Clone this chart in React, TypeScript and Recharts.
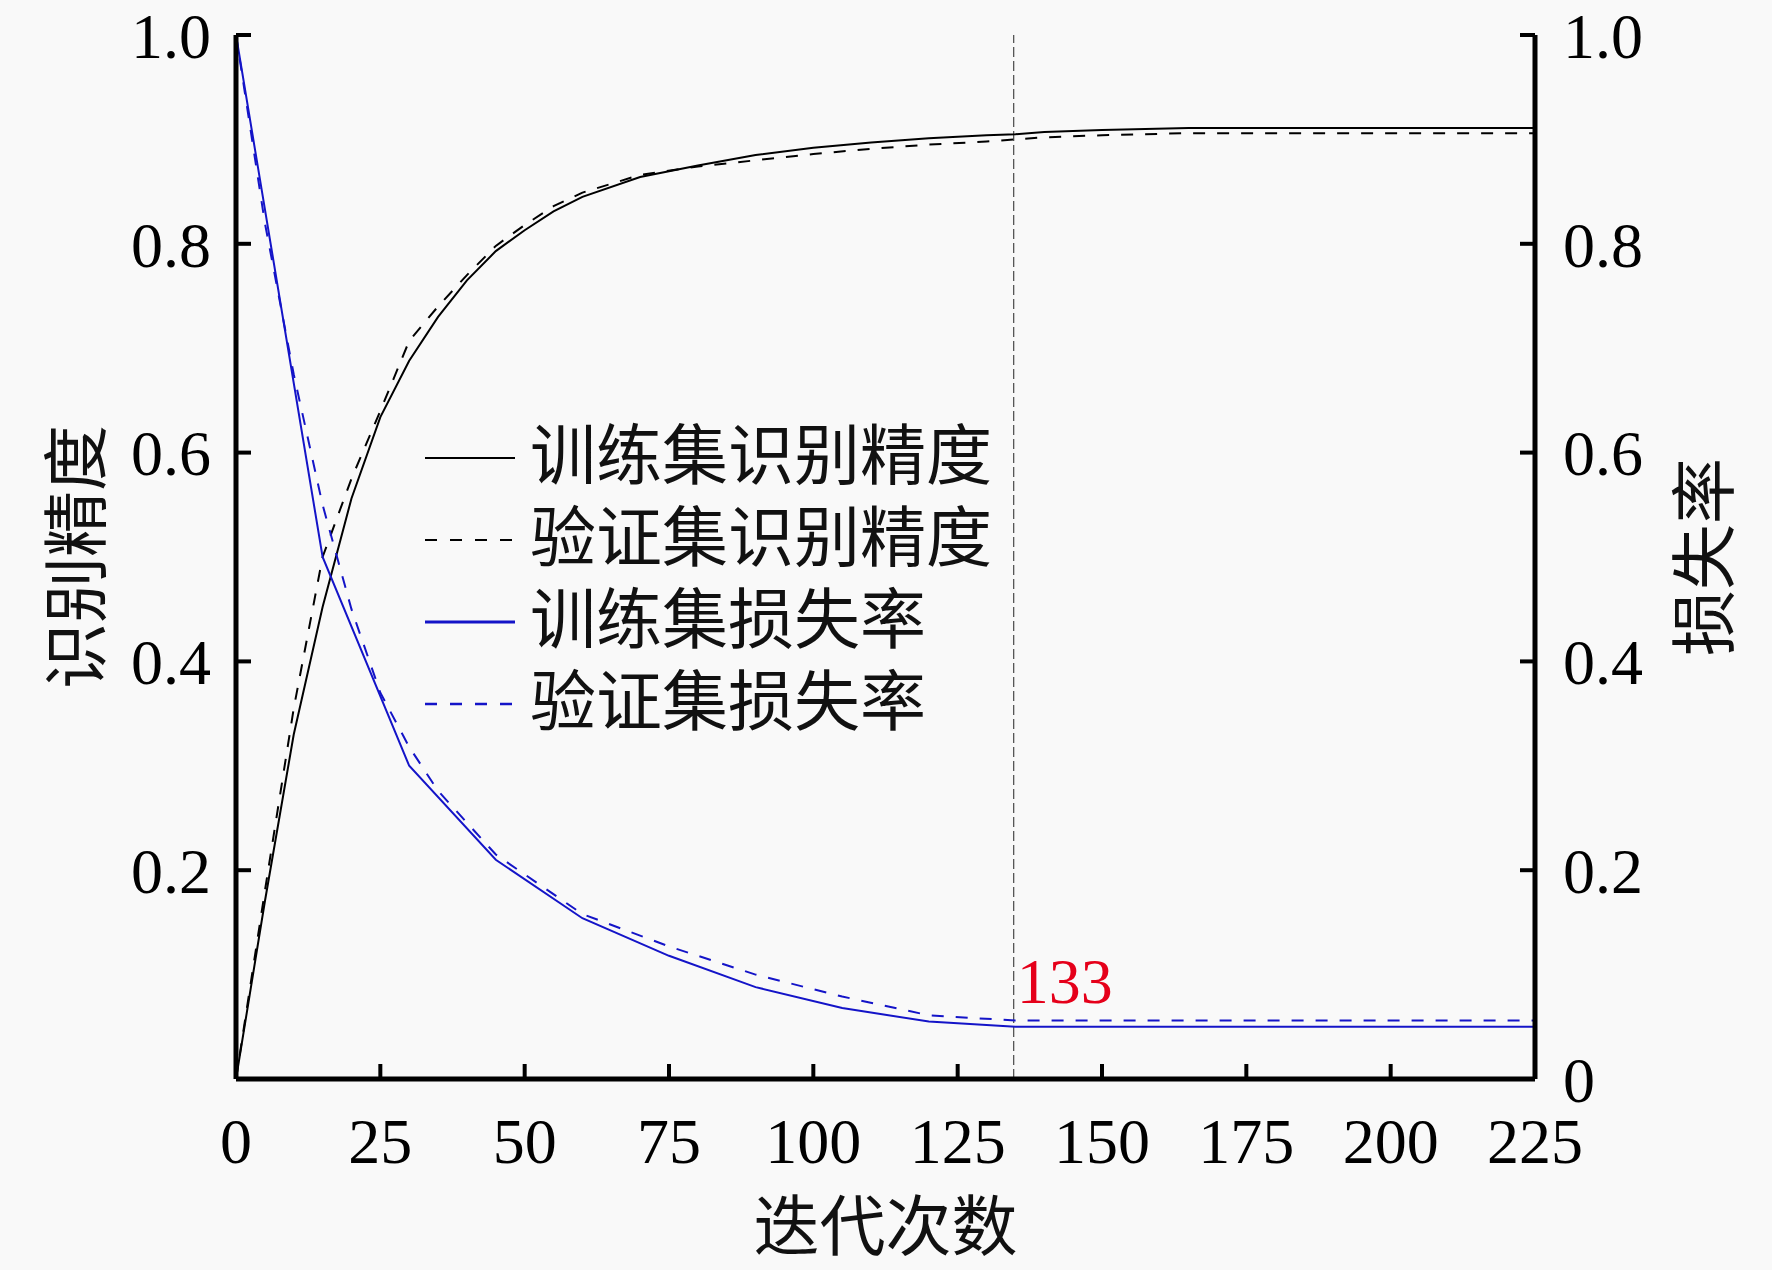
import React from 'react';
import { LineChart, Line, XAxis, YAxis, ReferenceLine, Legend, Label } from 'recharts';

// ---- data ----
const accEpochs = [0, 5, 10, 15, 20, 25, 30, 35, 40, 45, 50, 55, 60, 70, 80, 90, 100, 110, 120, 130, 135, 140, 150, 165, 225];
const trainAcc = [0, 0.17, 0.33, 0.452, 0.556, 0.634, 0.688, 0.73, 0.765, 0.793, 0.813, 0.831, 0.845, 0.864, 0.875, 0.885, 0.892, 0.897, 0.901, 0.904, 0.905, 0.907, 0.909, 0.911, 0.911];
const valAcc = [0, 0.18, 0.355, 0.5, 0.575, 0.64, 0.707, 0.74, 0.77, 0.798, 0.818, 0.836, 0.849, 0.866, 0.874, 0.88, 0.886, 0.891, 0.895, 0.898, 0.9, 0.902, 0.904, 0.906, 0.906];

const trainLossEpochs = [0, 15, 30, 45, 60, 75, 90, 105, 120, 135, 225];
const trainLoss = [1.0, 0.5, 0.3, 0.21, 0.154, 0.118, 0.088, 0.068, 0.055, 0.05, 0.05];

const valLossEpochs = [0, 5, 10, 15, 20, 25, 30, 35, 45, 60, 75, 90, 105, 120, 135, 225];
const valLoss = [1.0, 0.82, 0.675, 0.55, 0.45, 0.37, 0.318, 0.276, 0.215, 0.158, 0.127, 0.1, 0.079, 0.061, 0.056, 0.056];

const xTicks = [0, 25, 50, 75, 100, 125, 150, 175, 200, 225];
const accTicks = [0.2, 0.4, 0.6, 0.8, 1.0];
const lossTicks = [0, 0.2, 0.4, 0.6, 0.8, 1.0];

const markerEpoch = 134.7;
const markerLabel = '133';

const seriesNames = ['训练集识别精度', '验证集识别精度', '训练集损失率', '验证集损失率'];
const xTitle = '迭代次数';
const accTitle = '识别精度';
const lossTitle = '损失率';

// ---- derived tables ----
const trainAccData = accEpochs.map((e, i) => ({ epoch: e, value: trainAcc[i] }));
const valAccData = accEpochs.map((e, i) => ({ epoch: e, value: valAcc[i] }));
const trainLossData = trainLossEpochs.map((e, i) => ({ epoch: e, value: trainLoss[i] }));
const valLossData = valLossEpochs.map((e, i) => ({ epoch: e, value: valLoss[i] }));

const BLUE = '#1414c8';
const SERIF = '"Liberation Serif", "Times New Roman", serif';
const CJK = '"Noto Sans CJK SC", "Noto Sans", sans-serif';

const legendItems = [
  { name: seriesNames[0], color: '#000', dash: undefined, w: 2 },
  { name: seriesNames[1], color: '#000', dash: '12 13', w: 2 },
  { name: seriesNames[2], color: BLUE, dash: undefined, w: 3 },
  { name: seriesNames[3], color: BLUE, dash: '12 13', w: 2.5 },
];

const renderLegend = () => (
  <div style={{ display: 'flex', flexDirection: 'column' }}>
    {legendItems.map((it) => (
      <div key={it.name} style={{ display: 'flex', alignItems: 'flex-start', height: 82 }}>
        <svg width={90} height={82} style={{ display: 'block' }}>
          <line x1={0} x2={90} y1={49} y2={49} stroke={it.color} strokeWidth={it.w} strokeDasharray={it.dash} />
        </svg>
        <span style={{ marginLeft: 15, fontFamily: CJK, fontSize: 66, lineHeight: '82px', color: '#111', whiteSpace: 'nowrap' }}>
          {it.name}
        </span>
      </div>
    ))}
  </div>
);

const tickStyle = { fontFamily: SERIF, fontSize: 64, fill: '#000' };
const axisLineStyle = { stroke: '#000', strokeWidth: 5 };
const tickLineStyle = { stroke: '#000', strokeWidth: 4 };

export default function App() {
  return (
    <div style={{ position: 'absolute', left: 0, top: 0, width: 1772, height: 1270, background: '#f9f9f9' }}>
      <LineChart
        width={1772}
        height={1270}
        margin={{ top: 35, right: 100, bottom: 100, left: 100 }}
        style={{ background: '#f9f9f9' }}
      >
        <XAxis
          xAxisId="main"
          dataKey="epoch"
          type="number"
          domain={[0, 225]}
          ticks={xTicks}
          allowDataOverflow
          height={91}
          axisLine={axisLineStyle}
          tickLine={tickLineStyle}
          tickSize={-15}
          tickMargin={54}
          tick={tickStyle}
          interval={0}
        >
          <Label
            content={() => (
              <text x={885.5} y={1250} textAnchor="middle" fontFamily={CJK} fontSize={66} fill="#111">
                {xTitle}
              </text>
            )}
          />
        </XAxis>
        <XAxis
          xAxisId="top"
          orientation="top"
          type="number"
          domain={[0, 225]}
          height={0}
          tick={false}
          tickLine={false}
          axisLine={axisLineStyle}
        />
        <YAxis
          yAxisId="acc"
          type="number"
          domain={[0, 1]}
          ticks={accTicks}
          width={136}
          axisLine={axisLineStyle}
          tickLine={tickLineStyle}
          tickSize={-15}
          tickMargin={40}
          tick={tickStyle}
          tickFormatter={(v: number) => v.toFixed(1)}
          interval={0}
        >
          <Label
            content={() => (
              <text
                x={71}
                y={557}
                textAnchor="middle"
                dominantBaseline="central"
                transform="rotate(-90 71 557)"
                fontFamily={CJK}
                fontSize={66}
                fill="#111"
              >
                {accTitle}
              </text>
            )}
          />
        </YAxis>
        <YAxis
          yAxisId="loss"
          orientation="right"
          type="number"
          domain={[0, 1]}
          ticks={lossTicks}
          width={137}
          axisLine={axisLineStyle}
          tickLine={tickLineStyle}
          tickSize={-15}
          tickMargin={43}
          tick={tickStyle}
          tickFormatter={(v: number) => (v === 0 ? '0' : v.toFixed(1))}
          interval={0}
        >
          <Label
            content={() => (
              <text
                x={1699}
                y={557}
                textAnchor="middle"
                dominantBaseline="central"
                transform="rotate(-90 1699 557)"
                fontFamily={CJK}
                fontSize={66}
                fill="#111"
              >
                {lossTitle}
              </text>
            )}
          />
        </YAxis>

        <ReferenceLine
          xAxisId="main"
          yAxisId="acc"
          x={markerEpoch}
          stroke="#555"
          strokeWidth={1.3}
          strokeDasharray="10 4"
          label={(props: any) => {
            const vb = props.viewBox || {};
            return (
              <text x={(vb.x ?? 0) + 3} y={(vb.y ?? 0) + (vb.height ?? 0) - 76} fontFamily={SERIF} fontSize={64} fill="#e5001a">
                {markerLabel}
              </text>
            );
          }}
        />

        <Line
          xAxisId="main"
          yAxisId="acc"
          data={trainAccData}
          dataKey="value"
          name={seriesNames[0]}
          type="linear"
          stroke="#000"
          strokeWidth={2}
          dot={false}
          isAnimationActive={false}
        />
        <Line
          xAxisId="main"
          yAxisId="acc"
          data={valAccData}
          dataKey="value"
          name={seriesNames[1]}
          type="linear"
          stroke="#000"
          strokeWidth={2}
          strokeDasharray="12 12"
          dot={false}
          isAnimationActive={false}
        />
        <Line
          xAxisId="main"
          yAxisId="loss"
          data={valLossData}
          dataKey="value"
          name={seriesNames[3]}
          type="linear"
          stroke={BLUE}
          strokeWidth={2}
          strokeDasharray="12 12"
          dot={false}
          isAnimationActive={false}
        />
        <Line
          xAxisId="main"
          yAxisId="loss"
          data={trainLossData}
          dataKey="value"
          name={seriesNames[2]}
          type="linear"
          stroke={BLUE}
          strokeWidth={2}
          dot={false}
          isAnimationActive={false}
        />

        <Legend
          layout="vertical"
          align="center"
          verticalAlign="middle"
          content={renderLegend}
          wrapperStyle={{ left: 425, top: 409, width: 'auto', height: 'auto' }}
        />
      </LineChart>
    </div>
  );
}
